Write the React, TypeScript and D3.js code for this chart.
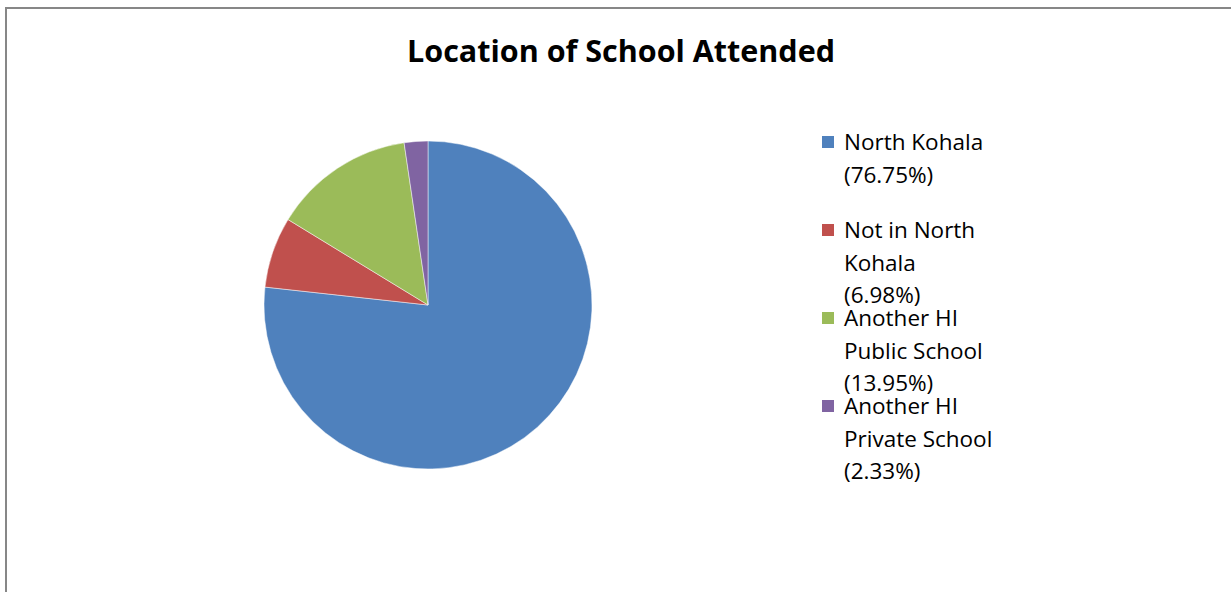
import { useEffect, useRef } from "react";
import * as d3 from "d3";

const categories = [
  "North Kohala",
  "Not in North Kohala",
  "Another HI Public School",
  "Another HI Private School",
];
const shares = [76.75, 6.98, 13.95, 2.33];
const legendLines = [
  ["North Kohala", "(76.75%)"],
  ["Not in North", "Kohala", "(6.98%)"],
  ["Another HI", "Public School", "(13.95%)"],
  ["Another HI", "Private School", "(2.33%)"],
];
const colors = ["#4F81BD", "#C0504D", "#9BBB59", "#8064A2"];

const W = 1231;
const H = 592;

export default function App() {
  const svgRef = useRef<SVGSVGElement>(null);

  useEffect(() => {
    if (!svgRef.current) return;
    const svg = d3.select(svgRef.current);
    svg.selectAll("*").remove();

    // 차트 테두리
    svg
      .append("rect")
      .attr("x", 6)
      .attr("y", 8)
      .attr("width", W + 10)
      .attr("height", H + 10)
      .attr("fill", "white")
      .attr("stroke", "#878787")
      .attr("stroke-width", 2);

    svg
      .append("text")
      .attr("x", 621)
      .attr("y", 62)
      .attr("text-anchor", "middle")
      .attr("font-family", "'Open Sans', sans-serif")
      .attr("font-weight", "bold")
      .attr("font-size", 30.5)
      .attr("fill", "#000")
      .text("Location of School Attended");

    const data = categories.map((c, i) => ({ name: c, value: shares[i] }));
    const pie = d3
      .pie<{ name: string; value: number }>()
      .sort(null)
      .value((d) => d.value);
    const arc = d3
      .arc<d3.PieArcDatum<{ name: string; value: number }>>()
      .innerRadius(0)
      .outerRadius(164);

    const g = svg.append("g").attr("transform", "translate(428,305)");
    g.selectAll("path")
      .data(pie(data))
      .enter()
      .append("path")
      .attr("d", arc)
      .attr("fill", (_, i) => colors[i])
      .attr("stroke", "#ffffff")
      .attr("stroke-opacity", 0.6)
      .attr("stroke-width", 0.8);

    // 범례
    const legend = svg.append("g");
    legendLines.forEach((lines, i) => {
      const top = 150 + i * 88;
      legend
        .append("rect")
        .attr("x", 822)
        .attr("y", top - 14)
        .attr("width", 12)
        .attr("height", 12)
        .attr("fill", colors[i]);
      lines.forEach((ln, j) => {
        legend
          .append("text")
          .attr("x", 844)
          .attr("y", top + j * 32.5)
          .attr("font-family", "'Open Sans', sans-serif")
          .attr("font-size", 22.5)
          .attr("fill", "#000")
          .text(ln);
      });
    });
  }, []);

  return (
    <svg
      ref={svgRef}
      width={W}
      height={H}
      style={{ position: "absolute", left: 0, top: 0 }}
    />
  );
}
